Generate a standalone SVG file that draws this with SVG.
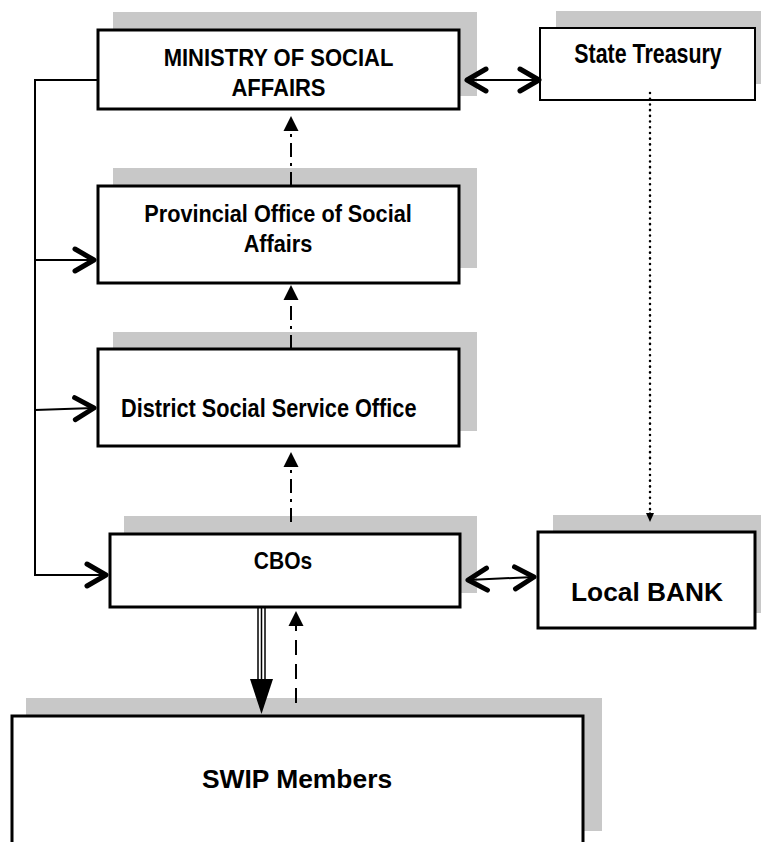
<svg xmlns="http://www.w3.org/2000/svg" width="761" height="842" viewBox="0 0 761 842">
<style>
.shadow{fill:#c8c8c8;}
.box{fill:#fff;stroke:#000;stroke-width:3;}
.thin{stroke-width:2;}
.lbl{font-family:"Liberation Sans",Arial,sans-serif;font-weight:bold;fill:#000;text-anchor:middle;}
.ln{fill:none;stroke:#000;stroke-width:2;}
.dd{fill:none;stroke:#000;stroke-width:2;stroke-dasharray:14 6 3 6;}
.dash{fill:none;stroke:#000;stroke-width:2;stroke-dasharray:15 9;}
.dot{fill:none;stroke:#000;stroke-width:2.5;stroke-dasharray:0.1 5.6;stroke-linecap:round;}
.tri{fill:none;stroke:#000;stroke-width:1.5;}
</style>
<defs>
<marker id="chev" viewBox="-26 -16 30 32" refX="0" refY="0" markerWidth="30" markerHeight="32" markerUnits="userSpaceOnUse" orient="auto-start-reverse">
<path d="M-19,-11 L0,0 L-19,11" fill="none" stroke="#000" stroke-width="5" stroke-linecap="round" stroke-linejoin="round"/>
</marker>
<marker id="tri" viewBox="0 -8 16 16" refX="0" refY="0" markerWidth="16" markerHeight="16" markerUnits="userSpaceOnUse" orient="auto">
<path d="M0,-7.5 L15,0 L0,7.5 Z" fill="#000"/>
</marker>
<marker id="small" viewBox="0 -5 10 10" refX="0" refY="0" markerWidth="10" markerHeight="10" markerUnits="userSpaceOnUse" orient="auto">
<path d="M0,-4 L9,0 L0,4 Z" fill="#000"/>
</marker>
<marker id="big" viewBox="0 -12 36 24" refX="0" refY="0" markerWidth="36" markerHeight="24" markerUnits="userSpaceOnUse" orient="auto">
<path d="M0,-11.5 L35,0 L0,11.5 Z" fill="#000"/>
</marker>
</defs>

<g id="ministry">
<rect class="shadow" x="113" y="12" width="364" height="84"/>
<rect class="box" x="98" y="30" width="361" height="79"/>
<text class="lbl" font-size="22" transform="translate(278.5,66) scale(1,1.07)">MINISTRY OF SOCIAL</text>
<text class="lbl" font-size="22" transform="translate(278.5,96) scale(1,1.07)">AFFAIRS</text>
</g>

<g id="treasury">
<rect class="shadow" x="556" y="11" width="205" height="73"/>
<rect class="box thin" x="540" y="28" width="215" height="72"/>
<text class="lbl" font-size="21.4" transform="translate(648,63) scale(1,1.3)">State Treasury</text>
</g>

<g id="provincial">
<rect class="shadow" x="113" y="168" width="364" height="100"/>
<rect class="box" x="98" y="186" width="361" height="97"/>
<text class="lbl" font-size="21.7" transform="translate(278,222) scale(1,1.14)">Provincial Office of Social</text>
<text class="lbl" font-size="21.7" transform="translate(278,252) scale(1,1.14)">Affairs</text>
</g>

<g id="district">
<rect class="shadow" x="113" y="332" width="364" height="99"/>
<rect class="box" x="98" y="349" width="361" height="97"/>
<text class="lbl" font-size="21.7" style="text-anchor:start" transform="translate(121,417) scale(1,1.16)">District Social Service Office</text>
</g>

<g id="cbos">
<rect class="shadow" x="124" y="516" width="353" height="77"/>
<rect class="box" x="110" y="534" width="350" height="73"/>
<text class="lbl" font-size="21" transform="translate(283,569) scale(1,1.18)">CBOs</text>
</g>

<g id="bank">
<rect class="shadow" x="553" y="515" width="208" height="98"/>
<rect class="box" x="538" y="532" width="217" height="96"/>
<text class="lbl" font-size="26.3" transform="translate(647,601)">Local BANK</text>
</g>

<g id="swip">
<rect class="shadow" x="26" y="698" width="576" height="133"/>
<rect class="box" x="12" y="716" width="571" height="140"/>
<text class="lbl" font-size="26.4" transform="translate(297,788)">SWIP Members</text>
</g>

<g id="connectors">
<path class="ln" d="M98,80 L35,80 L35,575 L106,575" marker-end="url(#chev)"/>
<path class="ln" d="M35,260 L94,260" marker-end="url(#chev)"/>
<path class="ln" d="M35,410 L94,408" marker-end="url(#chev)"/>
<path class="ln" d="M467,80 L539,80" marker-start="url(#chev)" marker-end="url(#chev)"/>
<path class="ln" d="M468,580 L534,577" marker-start="url(#chev)" marker-end="url(#chev)"/>
<path class="dot" d="M650,93 L650,513"/>
<path d="M650,512 L650,513" fill="none" stroke="#000" stroke-width="1" marker-end="url(#small)"/>
<path class="dd" d="M291,186 L291,131" marker-end="url(#tri)"/>
<path class="dd" d="M291,349 L291,300" marker-end="url(#tri)"/>
<path class="dd" d="M291,522 L291,467" marker-end="url(#tri)"/>
<path class="tri" d="M258,608 L258,680 M261.5,608 L261.5,680 M265,608 L265,680"/>
<path d="M261.5,678 L261.5,679" fill="none" stroke="#000" stroke-width="1" marker-end="url(#big)"/>
<path class="dash" d="M296,703 L296,626" marker-end="url(#tri)"/>
</g>
</svg>
